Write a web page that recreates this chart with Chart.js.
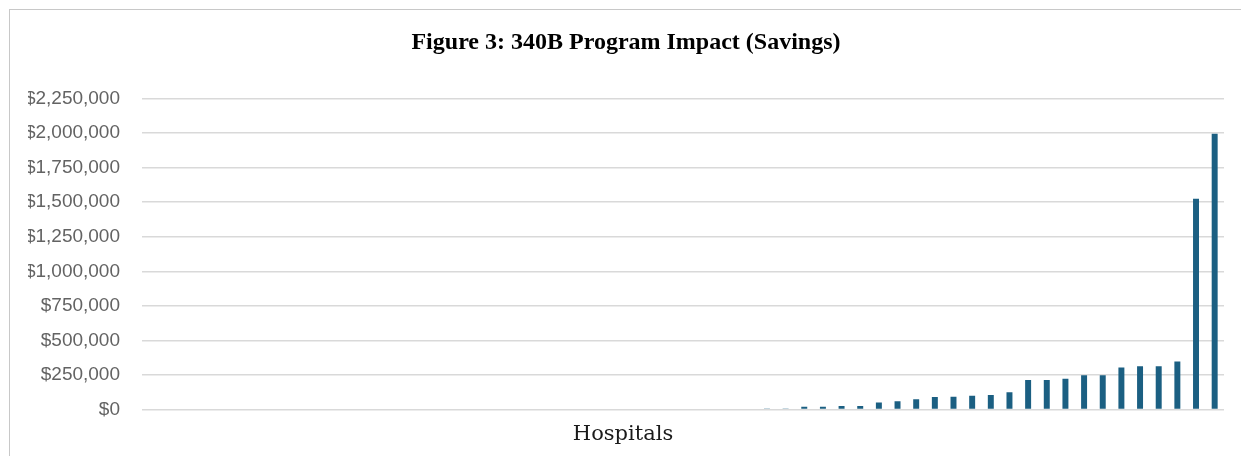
<!DOCTYPE html>
<html>
<head>
<meta charset="utf-8">
<script src="https://cdn.jsdelivr.net/npm/chart.js@4/dist/chart.umd.min.js"></script>
<style>
  html, body { margin: 0; padding: 0; background: #fff; overflow: hidden; }
  #wrap { position: relative; width: 1241px; height: 456px; overflow: hidden; }
  #frame { position: absolute; left: 9px; top: 9px; right: 0; bottom: 0;
           border-left: 1px solid #c8c8c8; border-top: 1px solid #c8c8c8; pointer-events: none; }
</style>
</head>
<body>
<div id="wrap">
  <canvas id="savingsChart" width="1241" height="456"></canvas>
  <div id="frame"></div>
</div>
<script>
// 340B savings per hospital, sorted ascending (58 hospitals, many with none)
const savings = [
    0, 0, 0, 0, 0, 0, 0, 0, 0, 0,
    0, 0, 0, 0, 0, 0, 0, 0, 0, 0,
    0, 0, 0, 0, 0, 0, 0, 0, 0, 0,
    0, 0, 0,
    8000, 8000, 19000, 19000, 25000, 25000, 50000, 60000, 75000, 90000,
    92000, 100000, 105000, 125000, 214000, 214000, 222000, 248000, 248000, 303000,
    313000, 313000, 347000, 1525000, 1995000
];
const hospitals = savings.map((_, i) => 'Hospital ' + (i + 1));
const yMax = 2250000;
const yStep = 250000;

const chartTitle = 'Figure 3: 340B Program Impact (Savings)';
const xAxisTitle = 'Hospitals';

// draw the "Hospitals" caption under the plot
const xTitlePlugin = {
    id: 'xTitle',
    afterDraw(chart) {
        const ctx = chart.ctx;
        ctx.save();
        ctx.font = '21px "DejaVu Serif"';
        ctx.fillStyle = '#1a1a1a';
        ctx.textAlign = 'center';
        ctx.textBaseline = 'middle';
        ctx.fillText(xAxisTitle, 623, 435);
        ctx.restore();
    }
};

const ctx = document.getElementById('savingsChart').getContext('2d');
new Chart(ctx, {
    type: 'bar',
    data: {
        labels: hospitals,
        datasets: [{
            label: 'Savings',
            data: savings,
            backgroundColor: '#1b5f82',
            barPercentage: 0.32,
            categoryPercentage: 1.0
        }]
    },
    options: {
        responsive: false,
        animation: false,
        layout: { padding: { left: 28, right: 17, top: 0, bottom: 46.5 } },
        plugins: {
            legend: { display: false },
            tooltip: { enabled: false },
            title: {
                display: true,
                text: chartTitle,
                color: '#000',
                font: { family: '"Liberation Serif"', size: 24, weight: 'bold', lineHeight: 1.2 },
                padding: { top: 28, bottom: 41.7 }
            }
        },
        scales: {
            x: { display: false },
            y: {
                min: 0,
                max: yMax,
                afterFit(scale) { scale.width = 114; },
                border: { display: false },
                grid: { color: '#d9d9d9', lineWidth: 1.5, drawTicks: false },
                ticks: {
                    stepSize: yStep,
                    padding: 22,
                    color: '#636363',
                    font: { family: '"Liberation Sans"', size: 19 },
                    callback: v => '$' + v.toLocaleString('en-US')
                }
            }
        }
    },
    plugins: [xTitlePlugin]
});
</script>
</body>
</html>
